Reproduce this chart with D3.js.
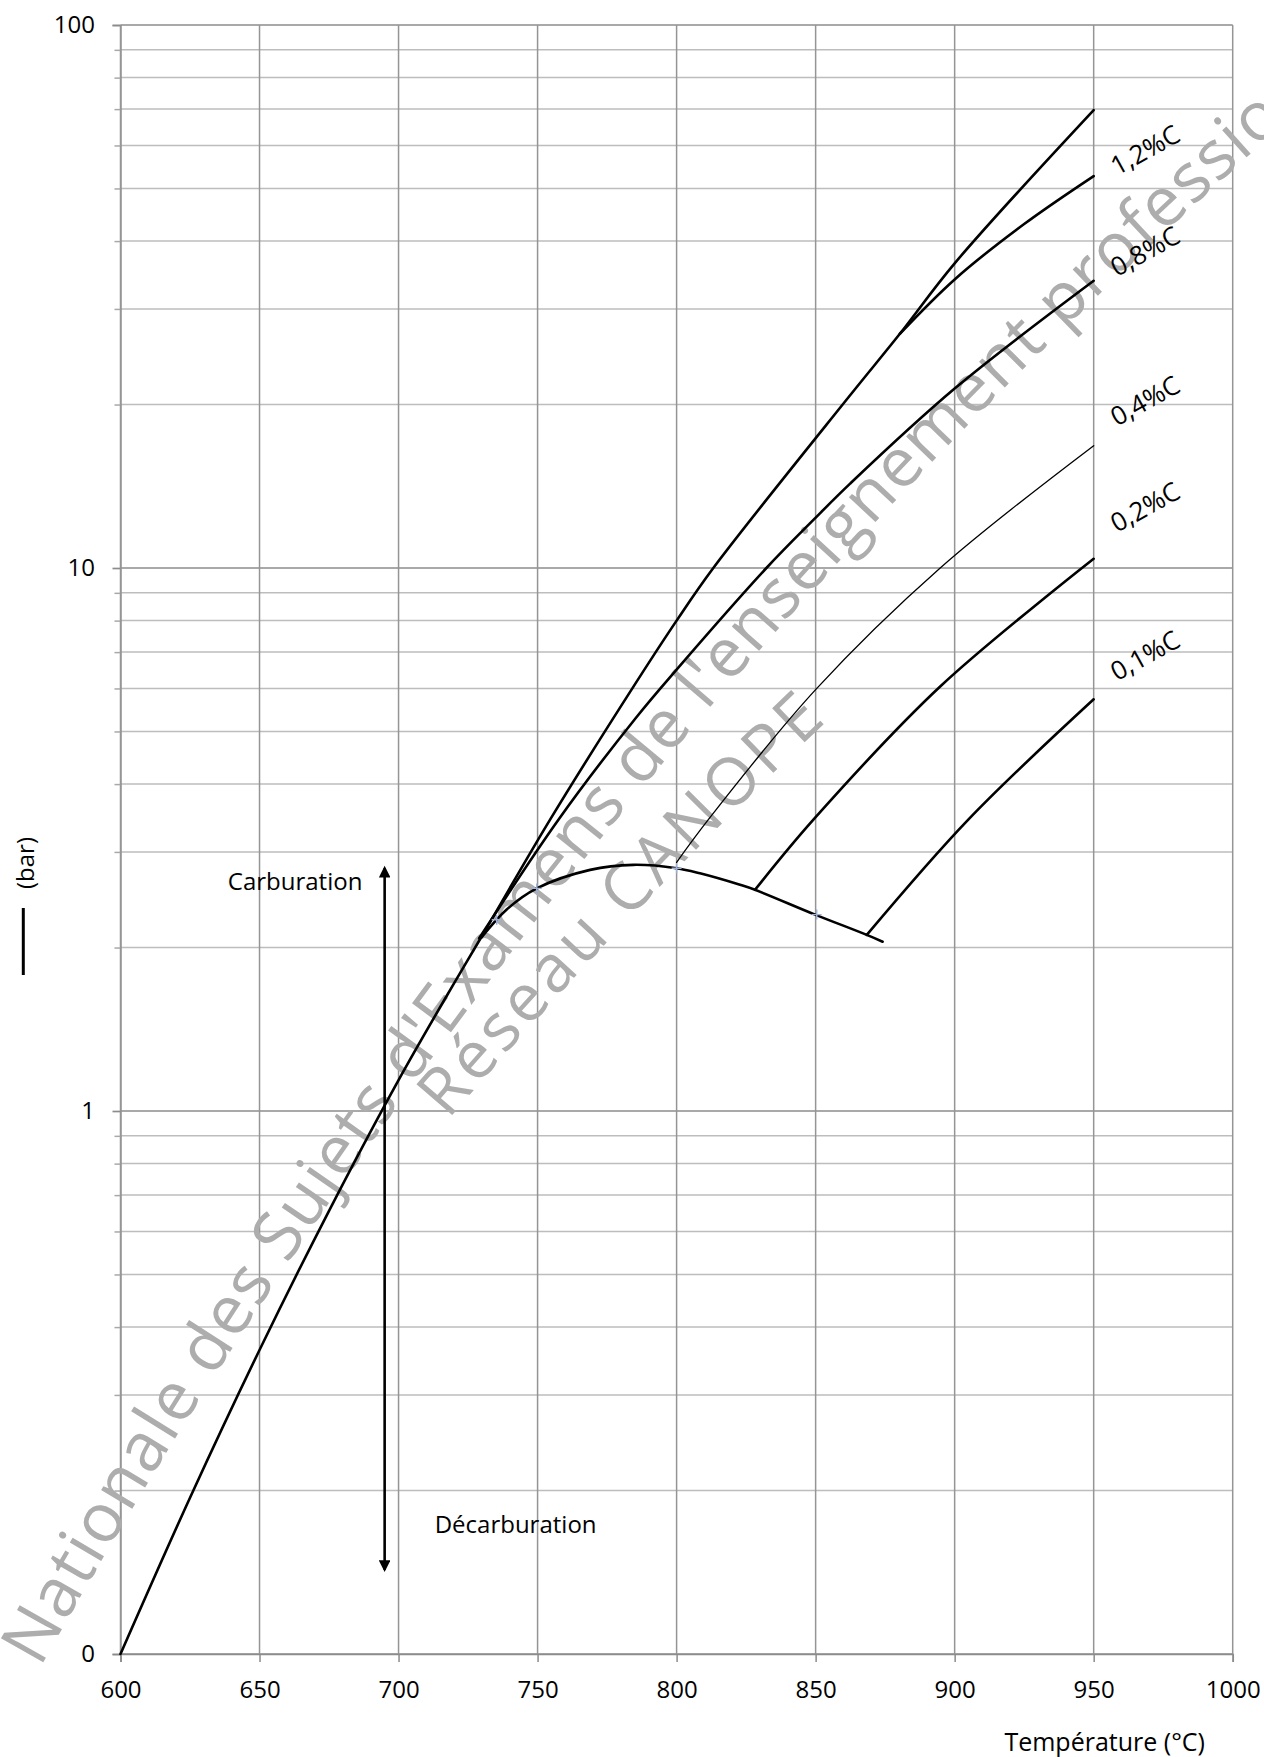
<!DOCTYPE html>
<html>
<head>
<meta charset="utf-8">
<script src="https://cdn.jsdelivr.net/npm/d3@7"></script>
<style>
  body { margin: 0; background: #fff; }
  svg { display: block; }
</style>
</head>
<body>
<div class="chart"></div>
<script>
// axes
var xTicks = [600, 650, 700, 750, 800, 850, 900, 950, 1000];
var yMajor = [0.1, 1, 10, 100];
var yLabels = ["0", "1", "10", "100"];

// courbe principale (600 -> 950)
var tBase = [600, 625, 650, 675, 700, 720, 730, 754.5, 785.4, 800, 813.2, 862.4, 880.3, 900, 950];
var pBase = [0.1, 0.194, 0.363, 0.655, 1.14, 1.72, 2.1, 3.44, 6.15, 8.0, 10.0, 20.8, 27.0, 36.4, 69.7];

// 1,2%C
var t12 = [880.3, 900, 925, 950];
var p12 = [27.0, 34.0, 43.0, 52.7];
// 0,8%C
var t08 = [729, 757.5, 785.4, 800, 832.3, 849.2, 862.4, 900, 950];
var p08 = [2.08, 3.44, 5.3, 6.5, 10.0, 12.26, 14.3, 21.4, 33.8];
// 0,4%C
var t04 = [800, 811.4, 850, 894.8, 950];
var p04 = [2.87, 3.44, 5.97, 10.0, 16.8];
// 0,2%C
var t02 = [828.2, 849.2, 894.8, 950];
var p02 = [2.555, 3.44, 6.05, 10.4];
// 0,1%C
var t01 = [868.4, 904.9, 950];
var p01 = [2.11, 3.44, 5.73];
// courbe en cloche
var tHump = [729.9, 738.9, 749.7, 768.9, 784.4, 800, 808.4, 822.8, 828.2, 849.8, 868.4, 874.1];
var pHump = [2.09, 2.35, 2.57, 2.78, 2.84, 2.80, 2.74, 2.61, 2.555, 2.30, 2.11, 2.05];

// etiquettes des courbes
var labels = ["1,2%C", "0,8%C", "0,4%C", "0,2%C", "0,1%C"];
var labelT = 958.4;
var labelP = [52.7, 34.3, 18.2, 11.6, 6.18];

// fleche carburation / decarburation
var arrowT = 695;
var arrowP = [0.143, 2.8];

// petits reperes bleus
var markT = [735.3, 749.7, 800, 850.4];
var markP = [2.25, 2.57, 2.80, 2.30];

var width = 1264, height = 1757;
var margin = { top: 25, right: 31.3, bottom: 103, left: 120.5 };

var svg = d3.select("div.chart").append("svg")
  .attr("width", width).attr("height", height)
  .style("font-family", "'Open Sans', sans-serif");

var x = d3.scaleLinear().domain([600, 1000]).range([margin.left, width - margin.right]);
var y = d3.scaleLog().domain([0.1, 100]).range([height - margin.bottom, margin.top]);

// graduations secondaires
var yMinor = [];
[0.1, 1, 10].forEach(function(d) {
  for (var k = 2; k <= 9; k++) yMinor.push(d * k);
});

// grille
svg.append("g").selectAll("line").data(yMinor).enter().append("line")
  .attr("x1", x(600)).attr("x2", x(1000))
  .attr("y1", function(d) { return y(d); }).attr("y2", function(d) { return y(d); })
  .attr("stroke", "#bdbdbd").attr("stroke-width", 1.5);

svg.append("g").selectAll("line").data(yMajor).enter().append("line")
  .attr("x1", x(600)).attr("x2", x(1000))
  .attr("y1", function(d) { return y(d); }).attr("y2", function(d) { return y(d); })
  .attr("stroke", "#8c8c8c").attr("stroke-width", 1.7);

svg.append("g").selectAll("line").data(xTicks).enter().append("line")
  .attr("x1", function(d) { return x(d); }).attr("x2", function(d) { return x(d); })
  .attr("y1", y(100)).attr("y2", y(0.1))
  .attr("stroke", "#959595").attr("stroke-width", 1.5);

// axes
var axisx = d3.axisBottom(x).tickValues(xTicks).tickSize(8).tickPadding(18.7)
  .tickFormat(d3.format("d"));
var gx = svg.append("g")
  .attr("transform", "translate(0," + y(0.1) + ")")
  .call(axisx);
gx.select(".domain").attr("stroke", "#8c8c8c").attr("stroke-width", 1.7);
gx.selectAll(".tick line").attr("stroke", "#8c8c8c").attr("stroke-width", 1.5);
gx.selectAll(".tick text").attr("font-size", "24px").attr("fill", "#000")
  .style("font-family", "'Open Sans', sans-serif");

var axisyMinor = d3.axisLeft(y).tickValues(yMinor).tickSize(6).tickFormat("");
var gym = svg.append("g").attr("transform", "translate(" + x(600) + ",0)").call(axisyMinor);
gym.select(".domain").remove();
gym.selectAll(".tick line").attr("stroke", "#a8a8a8").attr("stroke-width", 1.5);

var axisy = d3.axisLeft(y).tickValues(yMajor).tickSize(8).tickPadding(17.5)
  .tickFormat(function(d, i) { return yLabels[i]; });
var gy = svg.append("g").attr("transform", "translate(" + x(600) + ",0)").call(axisy);
gy.select(".domain").attr("stroke", "#959595").attr("stroke-width", 1.5);
gy.selectAll(".tick line").attr("stroke", "#8c8c8c").attr("stroke-width", 1.7);
gy.selectAll(".tick text").attr("font-size", "24px").attr("fill", "#000")
  .style("font-family", "'Open Sans', sans-serif");

// titres des axes
svg.append("text")
  .attr("x", 1205).attr("y", 1751)
  .attr("text-anchor", "end").attr("font-size", "25px")
  .text("Température (°C)");

svg.append("text")
  .attr("transform", "translate(34,863) rotate(-90)")
  .attr("text-anchor", "middle").attr("font-size", "24px")
  .text("(bar)");
svg.append("line")
  .attr("x1", 23.3).attr("x2", 23.3).attr("y1", 908).attr("y2", 975)
  .attr("stroke", "#000").attr("stroke-width", 3);

// filigrane (texte en arc)
var defs = svg.append("defs");
defs.append("path").attr("id", "wm1")
  .attr("d", "M40,1668 A5916,5916 0 0 1 1340,75 L1500,-60");
defs.append("path").attr("id", "wm2")
  .attr("d", "M448,1120 A5270,5270 0 0 1 860,690");

var wm = svg.append("g").attr("fill", "#adadad")
  .style("font-family", "'Open Sans', sans-serif");
wm.append("text")
  .attr("font-size", "68px")
  .append("textPath").attr("href", "#wm1")
  .attr("textLength", 2140).attr("lengthAdjust", "spacing")
  .text("Nationale des Sujets d'Examens de l'enseignement professionnel");
wm.append("text")
  .attr("font-size", "66px")
  .append("textPath").attr("href", "#wm2")
  .attr("textLength", 550).attr("lengthAdjust", "spacing")
  .text("Réseau CANOPE");

// courbes
var line = d3.line()
  .x(function(d) { return x(d[0]); })
  .y(function(d) { return y(d[1]); })
  .curve(d3.curveCatmullRom.alpha(0.5));

function pairs(t, p) { return t.map(function(d, i) { return [d, p[i]]; }); }

var series = [
  { t: tBase, p: pBase, w: 2.6 },
  { t: t12, p: p12, w: 2.6 },
  { t: t08, p: p08, w: 2.6 },
  { t: t04, p: p04, w: 1.3 },
  { t: t02, p: p02, w: 2.6 },
  { t: t01, p: p01, w: 2.6 },
  { t: tHump, p: pHump, w: 2.6 }
];

svg.append("g").selectAll("path").data(series).enter().append("path")
  .attr("fill", "none")
  .attr("stroke", "#000")
  .attr("stroke-width", function(d) { return d.w; })
  .attr("stroke-linecap", "round")
  .attr("d", function(d) { return line(pairs(d.t, d.p)); });

// reperes
svg.append("g").selectAll("path").data(pairs(markT, markP)).enter().append("path")
  .attr("d", function(d) {
    var cx = x(d[0]), cy = y(d[1]);
    return "M" + (cx - 5) + "," + cy + "H" + (cx + 5) + "M" + cx + "," + (cy - 5) + "V" + (cy + 5);
  })
  .attr("stroke", "#9db0d8").attr("stroke-width", 1.4);

// etiquettes
svg.append("g").selectAll("text").data(labels).enter().append("text")
  .attr("transform", function(d, i) {
    return "translate(" + x(labelT) + "," + y(labelP[i]) + ") rotate(-29)";
  })
  .attr("font-size", "26px")
  .text(function(d) { return d; });

// fleche
defs.append("marker").attr("id", "ah")
  .attr("viewBox", "0 0 10 10").attr("refX", 8).attr("refY", 5)
  .attr("markerWidth", 5.5).attr("markerHeight", 4.5)
  .attr("markerUnits", "strokeWidth")
  .attr("orient", "auto-start-reverse")
  .append("path").attr("d", "M0,0 L10,5 L0,10 Z").attr("fill", "#000");

svg.append("line")
  .attr("x1", x(arrowT)).attr("x2", x(arrowT))
  .attr("y1", y(arrowP[0])).attr("y2", y(arrowP[1]))
  .attr("stroke", "#000").attr("stroke-width", 2.6)
  .attr("marker-start", "url(#ah)").attr("marker-end", "url(#ah)");

svg.append("text")
  .attr("x", x(687)).attr("y", y(2.64)).attr("dy", "0.35em")
  .attr("text-anchor", "end").attr("font-size", "24px")
  .text("Carburation");

svg.append("text")
  .attr("x", x(713)).attr("y", y(0.173)).attr("dy", "0.35em")
  .attr("font-size", "24px")
  .text("Décarburation");
</script>
</body>
</html>
